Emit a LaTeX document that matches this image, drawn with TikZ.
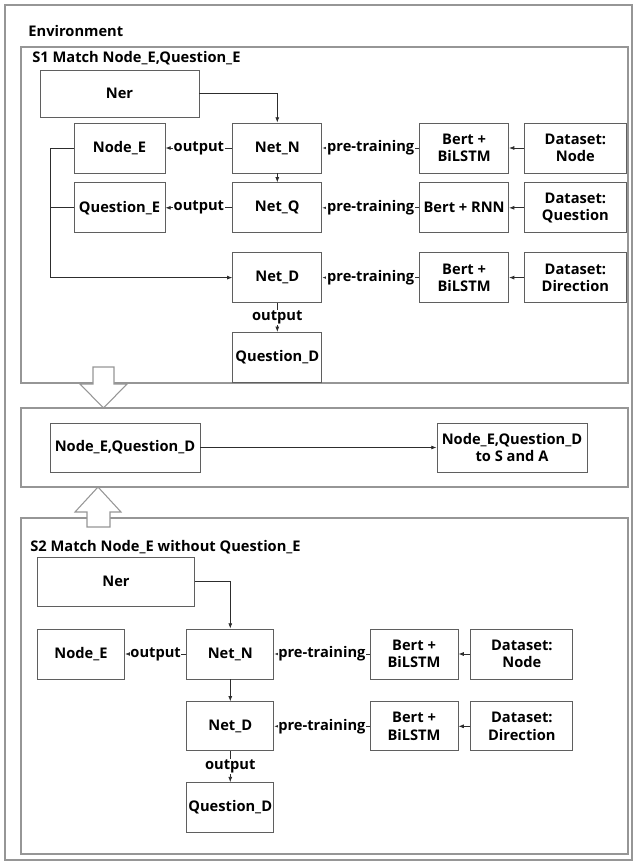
\documentclass[tikz,border=0pt]{standalone}
\usepackage{fontspec}
\setmainfont{Open Sans}
\usetikzlibrary{positioning, arrows.meta, calc}
\definecolor{framegray}{RGB}{150,150,150}
\definecolor{boxgray}{RGB}{95,95,95}
\definecolor{linegray}{RGB}{45,45,45}
\tikzset{main node/.style={draw=boxgray, fill=white, align=center, inner sep=1pt, font={\fontsize{11}{13}\selectfont\bfseries}, minimum height=37.5pt},
	label node/.style={fill=white, inner sep=0.5pt, font={\fontsize{11}{13}\selectfont\bfseries}},
	title text/.style={anchor=west, inner sep=0pt, font={\fontsize{11}{13}\selectfont\bfseries}},
	frame line/.style={draw=framegray, line width=0.8pt},
	block arrow/.style={draw=framegray, fill=white, line width=0.8pt, line join=miter},}

\begin{document}
\begin{tikzpicture}[x=0.75pt, y=-0.75pt, >={Latex[length=4pt,width=3pt]}, line width=0.6pt, draw=linegray]
	\useasboundingbox (0,0) rectangle (637,864);
	% Frames
	\draw[frame line] (5,5) rectangle (632,860);
	\node[title text] (env) at (28,31) {Environment};
	\draw[frame line] (21,47) rectangle (628,383);
	\node[title text] (s1) at (32,58) {S1 Match Node\_E,Question\_E};
	\draw[frame line] (21,408) rectangle (628,487);
	\draw[frame line] (21,518) rectangle (628,854);
	\node[title text] (s2) at (30,547) {S2 Match Node\_E without Question\_E};
	\draw[block arrow] (93,367) -- (114,367) -- (114,384) -- (127,384) -- (103.5,408) -- (80,384) -- (93,384) -- cycle;
	\draw[block arrow] (87,527) -- (110,527) -- (110,512) -- (121,512) -- (98,487) -- (75,512) -- (87,512) -- cycle;
	% Grids S1
	\node[main node, minimum width=119.25pt, minimum height=35.25pt] (ner1) at (119.5,93.5) {Ner};
	\node[main node, minimum width=68.25pt] (nodeE1) at (119.5,148) {Node\_E};
	\node[main node, minimum width=66.75pt] [right = 50.25pt of nodeE1] (netN1) {Net\_N};
	\node[main node, minimum width=66.75pt] [right = 72.75pt of netN1] (bert1) {Bert +\\BiLSTM};
	\node[main node, minimum width=76.5pt] [right = 11.25pt of bert1] (dsN1) {Dataset:\\Node};
	\node[main node, minimum width=68.25pt] [below = 6.75pt of nodeE1] (qE1) {Question\_E};
	\node[main node, minimum width=66.75pt] [below = 6.75pt of netN1] (netQ1) {Net\_Q};
	\node[main node, minimum width=66.75pt] [below = 6.75pt of bert1] (bertR1) {Bert + RNN};
	\node[main node, minimum width=76.5pt] [below = 6.75pt of dsN1] (dsQ1) {Dataset:\\Question};
	\node[main node, minimum width=66.75pt] [below = 14.25pt of netQ1] (netD1) {Net\_D};
	\node[main node, minimum width=66.75pt] [below = 14.25pt of bertR1] (bertD1) {Bert +\\BiLSTM};
	\node[main node, minimum width=76.5pt] [below = 14.25pt of dsQ1] (dsD1) {Dataset:\\Direction};
	\node[main node, minimum width=66.75pt] [below = 21.75pt of netD1] (qD1) {Question\_D};
	% Paths S1
	\draw[->] (ner1.east) -| (netN1.north);
	\draw[->] (netN1) -- node[label node] {output} (nodeE1);
	\draw[->] (bert1) -- node[label node] {pre-training} (netN1);
	\draw[->] (dsN1) -- (bert1);
	\draw[->] (netN1) -- (netQ1);
	\draw[->] (netQ1) -- node[label node] {output} (qE1);
	\draw[->] (bertR1) -- node[label node] {pre-training} (netQ1);
	\draw[->] (dsQ1) -- (bertR1);
	\draw[->] (nodeE1.west) -- ++(-23,0) |- (netD1.west);
	\draw (qE1.west) -- ++(-23,0);
	\draw[->] (bertD1) -- node[label node] {pre-training} (netD1);
	\draw[->] (dsD1) -- (bertD1);
	\draw[->] (netD1) -- node[label node] {output} (qD1);
	% Grids middle
	\node[main node, minimum width=112.5pt, minimum height=36.75pt] (ndq) at (125,447.5) {Node\_E,Question\_D};
	\node[main node, minimum width=112.5pt, minimum height=36.75pt] (ndqsa) at (512,447.5) {Node\_E,Question\_D\\to S and A};
	\draw[->] (ndq) -- (ndqsa);
	% Grids S2
	\node[main node, minimum width=117.75pt, minimum height=36.75pt] (ner2) at (116,581.5) {Ner};
	\node[main node, minimum width=65.25pt] (nodeE2) at (81,654) {Node\_E};
	\node[main node, minimum width=65.25pt] [right = 46.1pt of nodeE2] (netN2) {Net\_N};
	\node[main node, minimum width=66pt] [right = 71.6pt of netN2] (bert2) {Bert +\\BiLSTM};
	\node[main node, minimum width=76.5pt] [right = 9pt of bert2] (dsN2) {Dataset:\\Node};
	\node[main node, minimum width=65.25pt, minimum height=36.75pt] [below = 16.5pt of netN2] (netD2) {Net\_D};
	\node[main node, minimum width=66pt, minimum height=36.75pt] [below = 16.5pt of bert2] (bertD2) {Bert +\\BiLSTM};
	\node[main node, minimum width=76.5pt, minimum height=36.75pt] [below = 16.5pt of dsN2] (dsD2) {Dataset:\\Direction};
	\node[main node, minimum width=65.25pt] [below = 23.25pt of netD2] (qD2) {Question\_D};
	% Paths S2
	\draw[->] (ner2.east) -| (netN2.north);
	\draw[->] (netN2) -- node[label node] {output} (nodeE2);
	\draw[->] (bert2) -- node[label node] {pre-training} (netN2);
	\draw[->] (dsN2) -- (bert2);
	\draw[->] (netN2) -- (netD2);
	\draw[->] (bertD2) -- node[label node] {pre-training} (netD2);
	\draw[->] (dsD2) -- (bertD2);
	\draw[->] (netD2) -- node[label node] {output} (qD2);
\end{tikzpicture}
\end{document}
